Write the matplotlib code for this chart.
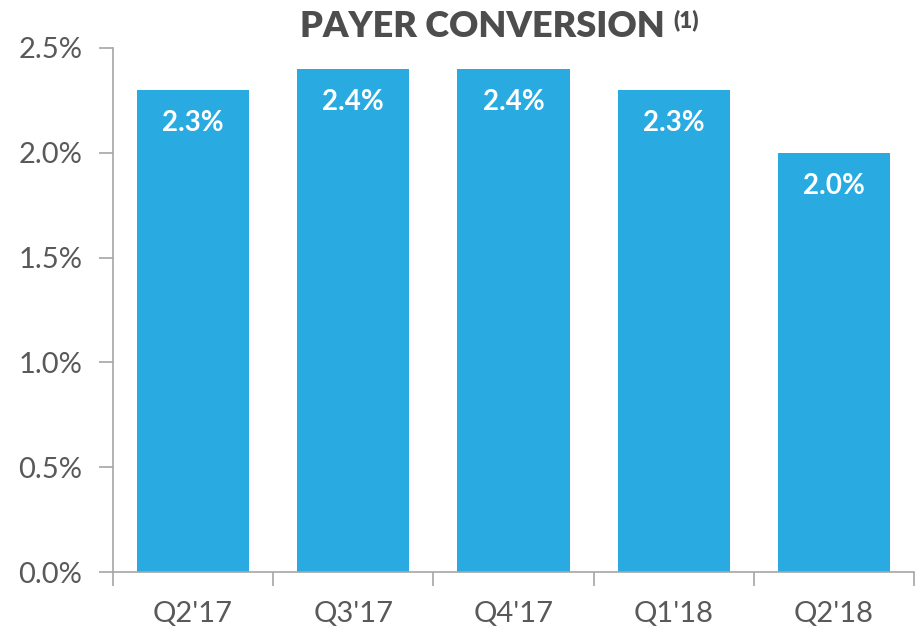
import numpy as np
import matplotlib.pyplot as plt

quarters = ["Q2'17", "Q3'17", "Q4'17", "Q1'18", "Q2'18"]
conversion = [2.3, 2.4, 2.4, 2.3, 2.0]
yticks = [0.0, 0.5, 1.0, 1.5, 2.0, 2.5]

bar_color = "#29abe2"
text_gray = "#595959"
axis_gray = "#a6a6a6"

fig = plt.figure(figsize=(9.18, 6.29), dpi=100)
ax = fig.add_axes([0.1231, 0.0906, 0.8725, 0.8331])

x = np.arange(len(quarters))
ax.bar(x, conversion, width=0.7, color=bar_color)

for xi, v in zip(x, conversion):
    ax.text(xi, v - 0.16, "%.1f%%" % v, ha="center", va="center",
            color="white", fontsize=20, fontweight="bold", family="Lato")

ax.set_xlim(-0.5, len(quarters) - 0.5)
ax.set_ylim(0, 2.5)
ax.set_yticks(yticks)
ax.set_yticklabels(["%.1f%%" % t for t in yticks], fontsize=21,
                   color=text_gray, family="Lato")

# category labels centered, tick marks at boundaries
ax.set_xticks(x)
ax.set_xticklabels(quarters, fontsize=21, color=text_gray, family="Lato")
ax.tick_params(axis="x", length=0, pad=21)
ax.set_xticks(np.arange(-0.5, len(quarters)), minor=True)
ax.tick_params(axis="x", which="minor", length=10, width=1.2, color=axis_gray,
               direction="out")
ax.tick_params(axis="y", length=10, width=1.2, color=axis_gray, pad=12)

for s in ["top", "right"]:
    ax.spines[s].set_visible(False)
for s in ["left", "bottom"]:
    ax.spines[s].set_color(axis_gray)
    ax.spines[s].set_linewidth(1.2)

fig.text(0.526, 0.958, "PAYER CONVERSION", ha="center", va="center",
         fontsize=26, fontweight="heavy", color="#4d4d4d", family="Lato")
fig.text(0.734, 0.968, "(1)", ha="left", va="center",
         fontsize=16, fontweight="heavy", color="#4d4d4d", family="Lato")

plt.savefig("out.png")
